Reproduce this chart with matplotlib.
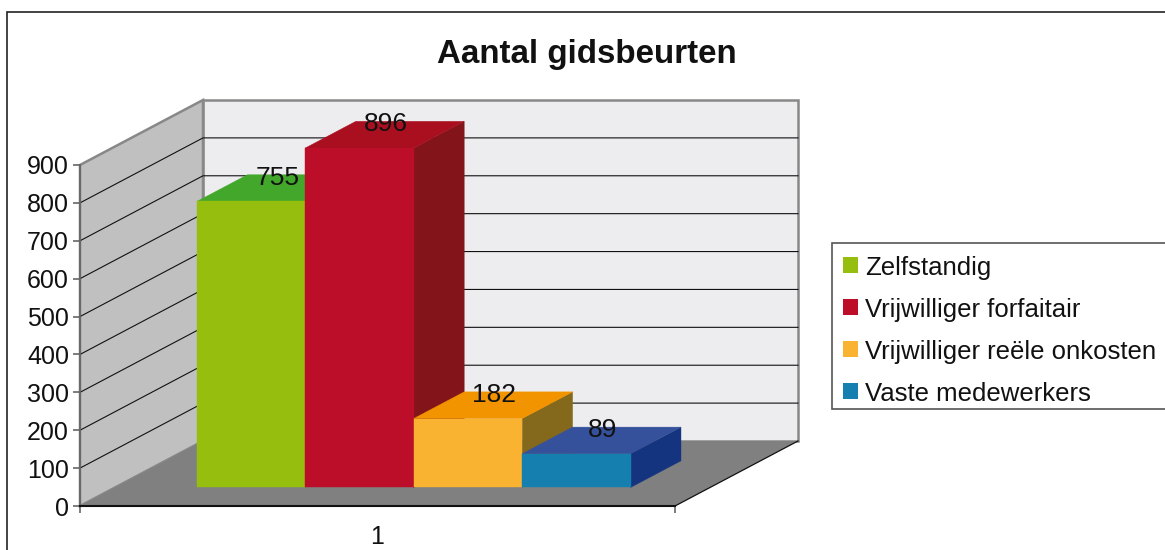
import matplotlib
matplotlib.use('Agg')
import matplotlib.pyplot as plt
from matplotlib.patches import Polygon, Patch, Rectangle

plt.rcParams['font.family'] = ['Liberation Sans', 'DejaVu Sans']

title = 'Aantal gidsbeurten'
series = ['Zelfstandig', 'Vrijwilliger forfaitair', 'Vrijwilliger reële onkosten', 'Vaste medewerkers']
values = [755, 896, 182, 89]
yticks = [0, 100, 200, 300, 400, 500, 600, 700, 800, 900]
front_colors = ['#95BE0F', '#BC0D29', '#F9B331', '#1580B0']
top_colors = ['#43A72B', '#AA0F1F', '#F29400', '#36519B']
side_colors = ['#43A72B', '#82141A', '#84691D', '#153480']

W, H = 1165, 550
# oblique projection: depth 0..1 moves the point right and up in data units
DEPTH_X = 123 / 595
DEPTH_V = 65 / (341 / 900)
BAR_W = 108.4 / 595
D0, D1 = 0.285, 0.695
WALL = '#888888'


def proj(x, v, d):
    return (x + d * DEPTH_X, v + d * DEPTH_V)


fig = plt.figure(figsize=(W / 100, H / 100), dpi=100)
ax = fig.add_axes([80 / W, 1 - 506 / H, 595 / W, 341 / H])
ax.set_xlim(0.5, 1.5)
ax.set_ylim(0, 900)
ax.patch.set_visible(False)

# outer frame of the picture, runs off the right and bottom side
fig.add_artist(Rectangle((6.5 / W, -0.1), 1.2, 1.1 - 11.5 / H, transform=fig.transFigure,
                         fc='none', ec='#222222', lw=1.2))

xl, xr = 0.5, 1.5
vmax = 900
# back wall, left wall, floor
ax.add_patch(Polygon([proj(xl, 0, 1), proj(xr, 0, 1), proj(xr, vmax, 1), proj(xl, vmax, 1)],
                     fc='#EDEDEF', ec=WALL, lw=1.8, clip_on=False, zorder=1))
ax.add_patch(Polygon([proj(xl, 0, 0), proj(xl, 0, 1), proj(xl, vmax, 1), proj(xl, vmax, 0)],
                     fc='#C0C0C0', ec=WALL, lw=1.8, clip_on=False, zorder=1))
for v in yticks[1:-1]:
    a, b, c = proj(xl, v, 0), proj(xl, v, 1), proj(xr, v, 1)
    ax.plot([a[0], b[0], c[0]], [a[1], b[1], c[1]], color='#111111', lw=0.8, clip_on=False, zorder=2)
ax.add_patch(Polygon([proj(xl, 0, 0), proj(xr, 0, 0), proj(xr, 0, 1), proj(xl, 0, 1)],
                     fc='#808080', ec='none', clip_on=False, zorder=3))
a, b = proj(xr, 0, 0), proj(xr, 0, 1)
ax.plot([a[0], b[0]], [a[1], b[1]], color='#111111', lw=0.9, clip_on=False, zorder=3)

# bars, left to right so each one covers the side of the one before
start = 1 - BAR_W * len(values) / 2 + 1.2 / 595
for i, v in enumerate(values):
    x0 = start + i * BAR_W
    x1 = x0 + BAR_W
    z = 4 + i
    ax.add_patch(Polygon([proj(x1, 0, D0), proj(x1, 0, D1), proj(x1, v, D1), proj(x1, v, D0)],
                         fc=side_colors[i], ec=side_colors[i], lw=0.3, clip_on=False, zorder=z))
    ax.add_patch(Polygon([proj(x0, v, D0), proj(x1, v, D0), proj(x1, v, D1), proj(x0, v, D1)],
                         fc=top_colors[i], ec=top_colors[i], lw=0.3, clip_on=False, zorder=z))
    ax.add_patch(Polygon([proj(x0, 0, D0), proj(x1, 0, D0), proj(x1, v, D0), proj(x0, v, D0)],
                         fc=front_colors[i], ec=front_colors[i], lw=0.3, clip_on=False, zorder=z))

for i, v in enumerate(values):
    xc = start + (i + 0.5) * BAR_W
    ax.annotate(str(v), (proj(xc, v, (D0 + D1) / 2)[0], proj(xc, v, D1)[1]),
                xytext=(0.7, -2), textcoords='offset points', ha='center', va='center',
                fontsize=19, color='#111111', annotation_clip=False, zorder=20)

# axes
for s in ['top', 'right']:
    ax.spines[s].set_visible(False)
ax.spines['left'].set_color('#666666')
ax.spines['left'].set_linewidth(1.3)
ax.spines['bottom'].set_color('#111111')
ax.spines['bottom'].set_linewidth(1.5)
for s in ax.spines.values():
    s.set_zorder(15)
ax.set_yticks(yticks)
ax.set_xticks([1])
ax.set_xticklabels(['1'])
ax.set_xticks([0.5, 1.5], minor=True)
ax.tick_params(axis='y', length=5, width=1.2, color='#666666', labelsize=18, pad=3, labelcolor='#111111')
ax.tick_params(axis='x', which='major', length=0, labelsize=18, pad=14, labelcolor='#111111')
ax.tick_params(axis='x', which='minor', length=5, width=1.2, color='#666666')

fig.text(587 / W, 1 - 55 / H, title, ha='center', va='center', fontsize=23.9, fontweight='bold', color='#111111')

# legend box runs off the right side, text sits a bit low in it so frame is drawn apart
fig.add_artist(Rectangle((832 / W, 1 - 409 / H), 0.4, 166 / H, transform=fig.transFigure,
                         fc='white', ec='#555555', lw=1.2))
handles = [Patch(fc=c, ec='none') for c in front_colors]
leg = fig.legend(handles, series, loc='upper left', bbox_to_anchor=(832 / W, 1 - 244.5 / H),
                 fontsize=18.5, frameon=False,
                 borderaxespad=0, borderpad=0.43, handlelength=0.58, handleheight=0.58,
                 handletextpad=0.27, labelspacing=0.7, labelcolor='#111111')

fig.savefig('out.png', dpi=100)
